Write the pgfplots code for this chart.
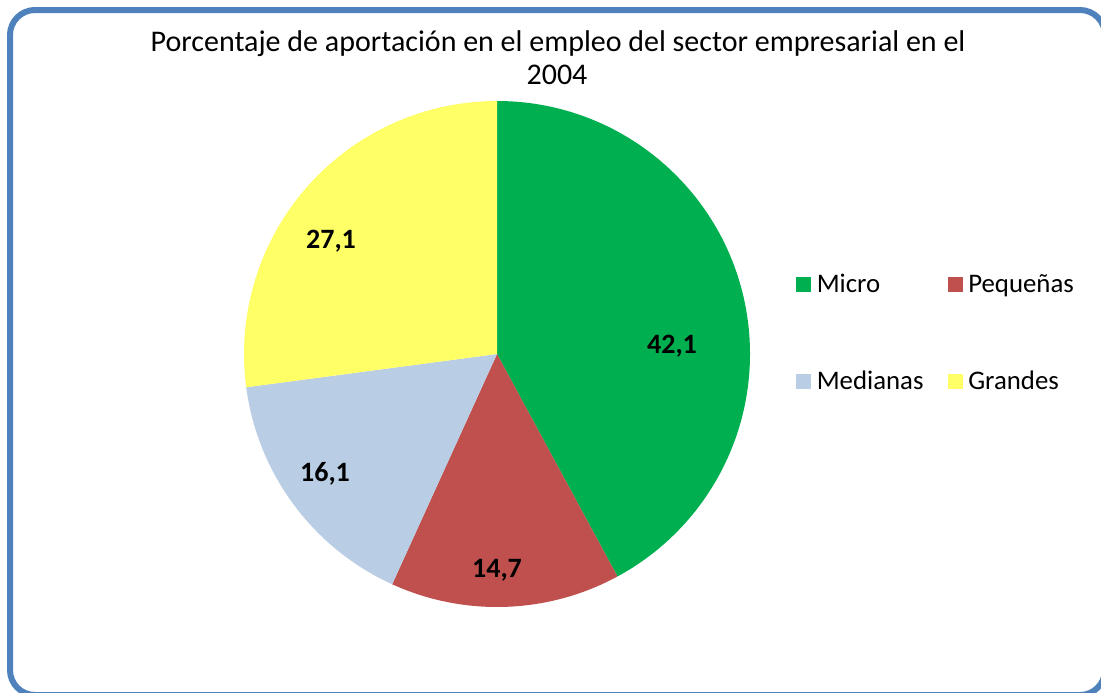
\documentclass[border=0pt]{standalone}
\usepackage{fontspec}
\setmainfont{Carlito}
\usepackage{pgfplots}
\usepackage{pgfplotstable}
\pgfplotsset{compat=1.18}

\definecolor{cmicro}{RGB}{0,176,80}
\definecolor{cpeq}{RGB}{192,80,77}
\definecolor{cmed}{RGB}{185,205,229}
\definecolor{cgran}{RGB}{255,255,102}
\definecolor{frameblue}{RGB}{79,129,189}

% share of employment, label position (pixels, y down)
\pgfplotstableread{
value lx ly col
42.1 672 353 cmicro
14.7 497 577 cpeq
16.1 325 481 cmed
27.1 331 248 cgran
}\piedata

\begin{document}
\begin{tikzpicture}
\begin{axis}[
    scale only axis,
    width=550.5pt, height=346pt,
    xmin=0, xmax=1101, ymin=0, ymax=692,
    y dir=reverse,
    hide axis,
    clip=false,
    legend columns=2,
    legend cell align=left,
    legend image code/.code={\fill[#1] (0pt,-3.5pt) rectangle (7pt,3.5pt);},
    legend style={
        draw=none, fill=none,
        at={(axis cs:796,274)}, anchor=north west,
        inner sep=0pt, outer sep=0pt,
        nodes={inner sep=0pt},
        font=\fontsize{13.4}{16}\selectfont,
        row sep=37.5pt,
        /tikz/every odd column/.append style={column sep=3pt},
        /tikz/every even column/.append style={column sep=12pt},
    },
]
\draw[frameblue, line width=3pt, rounded corners=12.5pt]
    (axis cs:10,10) rectangle (axis cs:1105,695);

\node[anchor=base, font=\fontsize{15}{18}\selectfont] at (axis cs:558,51)
    {Porcentaje de aportación en el empleo del sector empresarial en el};
\node[anchor=base, font=\fontsize{15}{18}\selectfont] at (axis cs:557,84) {2004};

\def\angstart{90}
\pgfplotsforeachungrouped \i in {0,...,3}{%
    \pgfplotstablegetelem{\i}{value}\of\piedata \let\val\pgfplotsretval
    \pgfplotstablegetelem{\i}{col}\of\piedata \let\col\pgfplotsretval
    \pgfplotstablegetelem{\i}{lx}\of\piedata \let\lx\pgfplotsretval
    \pgfplotstablegetelem{\i}{ly}\of\piedata \let\ly\pgfplotsretval
    \pgfmathsetmacro\angend{\angstart-3.6*\val}
    \edef\temp{%
        \noexpand\fill[\col] (axis cs:497,354) -- ++(\angstart:126.5pt)
            arc[start angle=\angstart, end angle=\angend, radius=126.5pt] -- cycle;
        \noexpand\node[anchor=base, font=\noexpand\fontsize{14}{17}\noexpand\selectfont\noexpand\bfseries]
            at (axis cs:\lx,\ly) {\noexpand\pgfmathprintnumber[assume math mode=true,use comma,fixed,fixed zerofill,precision=1]{\val}};
    }%
    \temp
    \let\angstart\angend
}

\addlegendimage{cmicro}\addlegendentry{Micro}
\addlegendimage{cpeq}\addlegendentry{Pequeñas}
\addlegendimage{cmed}\addlegendentry{Medianas}
\addlegendimage{cgran}\addlegendentry{Grandes}
\end{axis}
\pgfresetboundingbox
\useasboundingbox (current axis.south west) rectangle (current axis.north east);
\end{tikzpicture}
\end{document}
